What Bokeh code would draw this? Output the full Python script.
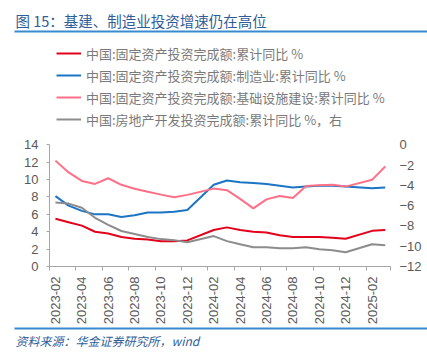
import math
from bokeh.plotting import figure
from bokeh.models import (Range1d, LinearAxis, FixedTicker, Legend, LegendItem,
                          ColorBar, LinearColorMapper, Title)
from bokeh.embed import file_html
from bokeh.resources import INLINE

# ---------------- data ----------------
months = ["2023-02", "2023-03", "2023-04", "2023-05", "2023-06", "2023-07",
          "2023-08", "2023-09", "2023-10", "2023-11", "2023-12",
          "2024-02", "2024-03", "2024-04", "2024-05", "2024-06", "2024-07",
          "2024-08", "2024-09", "2024-10", "2024-11", "2024-12",
          "2025-02", "2025-03"]
fai_total = [5.5, 5.1, 4.7, 4.0, 3.8, 3.4, 3.2, 3.1, 2.9, 2.9, 3.0,
             4.2, 4.5, 4.2, 4.0, 3.9, 3.6, 3.4, 3.4, 3.4, 3.3, 3.2,
             4.1, 4.2]
fai_mfg = [8.1, 7.0, 6.4, 6.0, 6.0, 5.7, 5.9, 6.2, 6.2, 6.3, 6.5,
           9.4, 9.9, 9.7, 9.6, 9.5, 9.3, 9.1, 9.2, 9.3, 9.3, 9.2,
           9.0, 9.1]
fai_infra = [12.18, 10.82, 9.84, 9.50, 10.15, 9.40, 8.95, 8.59, 8.27, 7.96, 8.24,
             8.96, 8.78, 7.78, 6.68, 7.72, 8.10, 7.89, 9.26, 9.35, 9.40, 9.19,
             9.97, 11.50]
re_inv = [-5.7, -5.8, -6.2, -7.2, -7.9, -8.5, -8.8, -9.1, -9.3, -9.4, -9.6,
          -9.0, -9.5, -9.8, -10.1, -10.1, -10.2, -10.2, -10.1, -10.3, -10.4, -10.6,
          -9.8, -9.9]
tick_labels = ["2023-02", "2023-04", "2023-06", "2023-08", "2023-10", "2023-12",
               "2024-02", "2024-04", "2024-06", "2024-08", "2024-10", "2024-12",
               "2025-02"]
left_ticks = [0, 2, 4, 6, 8, 10, 12, 14]
right_ticks = [-12, -10, -8, -6, -4, -2, 0]

names = ["中国:固定资产投资完成额:累计同比 %",
         "中国:固定资产投资完成额:制造业:累计同比 %",
         "中国:固定资产投资完成额:基础设施建设:累计同比 %",
         "中国:房地产开发投资完成额:累计同比 %，右"]
colors = ["#E2001A", "#1B75C4", "#FF6F86", "#8C8C8C"]
title_text = "图 15：基建、制造业投资增速仍在高位"
source_text = "资料来源：华金证券研究所，wind"

CJK = "Noto Sans CJK SC"
BLUE_TXT = "#2F5D98"
RULE = "#3A8AD0"
tick_font = "Liberation Sans"
label_color = "#595959"
axis_color = "#A6A6A6"

# ---------------- layout (pixels inside the figure) ----------------
W, H = 427, 364
LEFT, RIGHT, TOP, BOTTOM = 49, 37, 32, 98
PLOT_TOP = 144.3            # where the value 14 (left) / 0 (right) sits
frame_bottom = H - BOTTOM
data_px = frame_bottom - PLOT_TOP
left_lo, left_hi = 0, 14
right_lo, right_hi = -12, 0
left_top = left_hi + (PLOT_TOP - TOP) * (left_hi - left_lo) / data_px
right_top = right_hi + (PLOT_TOP - TOP) * (right_hi - right_lo) / data_px


def month_index(s):
    y, m = s.split("-")
    return (int(y) - 2023) * 12 + int(m) - 2


xs = [month_index(m) for m in months]
tick_pos = [month_index(m) for m in tick_labels]
x_start, x_end = -0.45, 25.4

p = figure(width=W, height=H, output_backend="svg", toolbar_location=None,
           x_range=Range1d(x_start, x_end), y_range=Range1d(left_lo, left_top),
           min_border_left=LEFT, min_border_right=RIGHT,
           min_border_top=TOP, min_border_bottom=BOTTOM)
p.outline_line_color = None
p.xgrid.grid_line_color = None
p.ygrid.grid_line_color = None
p.extra_y_ranges = {"right": Range1d(right_lo, right_top)}

r1 = p.line(xs, fai_total, line_color=colors[0], line_width=2)
r2 = p.line(xs, fai_mfg, line_color=colors[1], line_width=2)
r3 = p.line(xs, fai_infra, line_color=colors[2], line_width=2)
r4 = p.line(xs, re_inv, line_color=colors[3], line_width=2, y_range_name="right")

# ---- axes ----
ya = p.yaxis[0]
ya.ticker = FixedTicker(ticks=left_ticks)
ya.bounds = (left_lo, left_hi)
ya.major_label_text_font = tick_font
ya.major_label_text_font_size = "13px"
ya.major_label_text_color = label_color
ya.axis_line_color = axis_color
ya.major_tick_line_color = axis_color
ya.major_tick_out = 3
ya.major_tick_in = 0
ya.minor_tick_line_color = None
ya.major_label_standoff = 8

ra = LinearAxis(y_range_name="right", ticker=FixedTicker(ticks=right_ticks),
                bounds=(right_lo, right_hi))
ra.major_label_text_font = tick_font
ra.major_label_text_font_size = "13px"
ra.major_label_text_color = label_color
ra.axis_line_color = None
ra.major_tick_line_color = None
ra.minor_tick_line_color = None
ra.major_tick_out = 0
ra.major_label_standoff = 9
p.add_layout(ra, "right")

xa = p.xaxis[0]
bounds = [t - 0.45 for t in tick_pos] + [x_end]
xa.ticker = FixedTicker(ticks=tick_pos, minor_ticks=bounds)
xa.major_label_overrides = {t: l for t, l in zip(tick_pos, tick_labels)}
xa.major_label_orientation = math.pi / 2
xa.major_label_text_font = tick_font
xa.major_label_text_font_size = "13px"
xa.major_label_text_color = label_color
xa.axis_line_color = axis_color
xa.major_tick_line_color = None
xa.major_tick_out = 0
xa.major_tick_in = 0
xa.minor_tick_line_color = axis_color
xa.minor_tick_out = 4
xa.minor_tick_in = 0
xa.major_label_standoff = 6

# ---- legend (inside the frame, above the data area) ----
legend = Legend(items=[LegendItem(label=n, renderers=[r]) for n, r in
                       zip(names, [r1, r2, r3, r4])],
                location=(7, frame_bottom - 129.3), orientation="vertical")
legend.padding = 0
legend.margin = 0
legend.spacing = 2
legend.glyph_width = 25
legend.glyph_height = 20
legend.label_height = 20
legend.label_standoff = 5
legend.border_line_alpha = 0
legend.background_fill_alpha = 0
legend.label_text_font = CJK
legend.label_text_font_size = "13px"
legend.label_text_color = "#7A7A7A"
p.add_layout(legend, "center")


def rule_bar(margin):
    return ColorBar(color_mapper=LinearColorMapper(palette=[RULE], low=0, high=1),
                    orientation="horizontal", width=413, height=2,
                    location=(14 - LEFT, 0), padding=0, margin=margin,
                    ticker=FixedTicker(ticks=[]), major_tick_line_color=None,
                    minor_tick_line_color=None, bar_line_color=None,
                    border_line_color=None, background_fill_alpha=0,
                    label_standoff=0)


# rule under the title, then the title
p.add_layout(rule_bar(0), "above")
p.add_layout(Title(text=title_text, align="left", offset=15 - LEFT, standoff=0,
                   text_font=CJK, text_font_size="14.5px", text_font_style="normal",
                   text_color=BLUE_TXT), "above")

# rule above the source line, then the source line
p.add_layout(rule_bar(9), "below")
p.add_layout(Title(text=source_text, align="left", offset=15 - LEFT, standoff=1,
                   text_font=CJK, text_font_size="12px", text_font_style="italic",
                   text_color=BLUE_TXT), "below")

open("out.html", "w").write(file_html(p, INLINE))
